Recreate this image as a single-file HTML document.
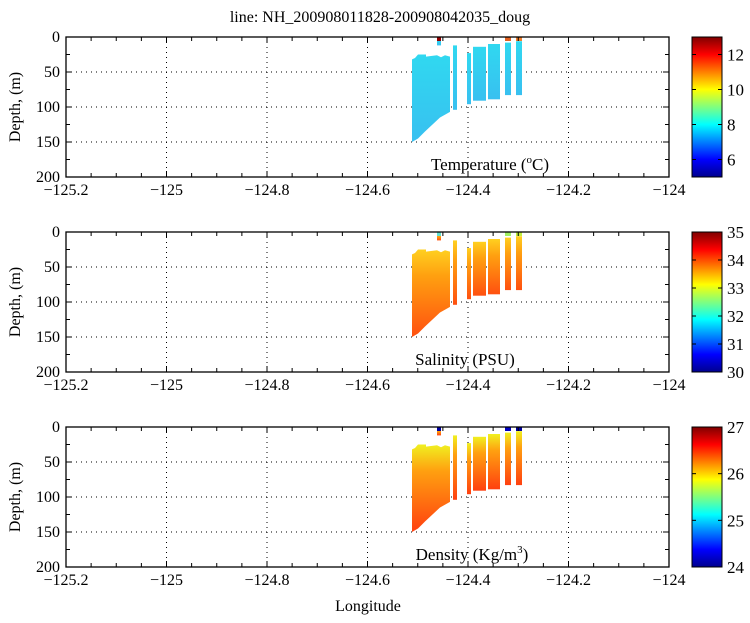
<!DOCTYPE html>
<html><head><meta charset="utf-8"><style>
body{margin:0;background:#fff;width:750px;height:618px;overflow:hidden}
svg text{font-family:"Liberation Serif",serif;fill:#000}
</style></head><body>
<svg id="s" width="750" height="618" xmlns="http://www.w3.org/2000/svg">
<defs>
<linearGradient id="jet" x1="0" y1="1" x2="0" y2="0">
<stop offset="0" stop-color="#00008f"/><stop offset="0.125" stop-color="#0000ff"/>
<stop offset="0.375" stop-color="#00ffff"/><stop offset="0.625" stop-color="#ffff00"/>
<stop offset="0.875" stop-color="#ff0000"/><stop offset="1" stop-color="#800000"/>
</linearGradient>
<linearGradient id="gT" x1="0" y1="0" x2="0" y2="1"><stop offset="0" stop-color="#30d8f0"/><stop offset="1" stop-color="#38c0f0"/></linearGradient>
<linearGradient id="gS" x1="0" y1="0" x2="0" y2="1"><stop offset="0" stop-color="#ffd020"/><stop offset="0.3" stop-color="#ffa010"/><stop offset="1" stop-color="#ff5010"/></linearGradient>
<linearGradient id="gD" x1="0" y1="0" x2="0" y2="1"><stop offset="0" stop-color="#f0f020"/><stop offset="0.3" stop-color="#ffa010"/><stop offset="1" stop-color="#ff4010"/></linearGradient>
</defs>
<text x="380" y="22" font-size="16" text-anchor="middle">line: NH_200908011828-200908042035_doug</text>
</svg>
<script>
const s=document.getElementById('s');const NS='http://www.w3.org/2000/svg';
function el(t,a,txt){const e=document.createElementNS(NS,t);for(const k in a)e.setAttribute(k,a[k]);if(txt!==undefined)e.innerHTML=txt;s.appendChild(e);return e;}
const L=66,R=669,W=R-L;
const tops=[37,232,427];
const fills=['url(#gT)','url(#gS)','url(#gD)'];
const labels=['Temperature (<tspan font-size="11" dy="-7">o</tspan><tspan dy="7">C)</tspan>','Salinity (PSU)','Density (Kg/m<tspan font-size="11" dy="-7">3</tspan><tspan dy="7">)</tspan>'];
const lx=[490,465,472];
const cb=[[5,13,[6,8,10,12]],[30,35,[30,31,32,33,34,35]],[24,27,[24,25,26,27]]];
const xv=v=>L+(v+125.2)/1.2*W;
tops.forEach((T,p)=>{
  const B=T+140,y=d=>T+d*0.7;
  for(const v of [-125,-124.8,-124.6,-124.4,-124.2]) el('line',{x1:xv(v),x2:xv(v),y1:T,y2:B,stroke:'#000','stroke-dasharray':'1,4','stroke-width':1});
  for(const d of [50,100,150]) el('line',{x1:L,x2:R,y1:y(d),y2:y(d),stroke:'#000','stroke-dasharray':'1,4','stroke-width':1});
  const pts=[[412,150],[412,32],[415,30],[418,25],[426,25],[426,28],[437,26],[441,29],[445,26],[450,28],[450,107],[440,115],[425,135],[418,145]];
  el('polygon',{points:pts.map(q=>q[0]+','+y(q[1])).join(' '),fill:fills[p]});
  const cols=[[453,457,12,104],[467,471,23,96],[473,486,14,91],[488,500,10,89],[505,511,8,83],[516,522,6,83],[437,441,4,12]];
  cols.forEach(c=>el('rect',{x:c[0],y:y(c[2]),width:c[1]-c[0],height:(c[3]-c[2])*0.7,fill:fills[p]}));
  const dots=[['#900000','#e06020','#f08030'],['#60e0d0','#a0f060','#c0f040'],['#0000a0','#0000c0','#0000a0']][p];
  [[437,441],[505,511],[516,522]].forEach((c,i)=>el('rect',{x:c[0],y:T,width:c[1]-c[0],height:4,fill:dots[i]}));
  el('rect',{x:L,y:T,width:W,height:140,fill:'none',stroke:'#000','stroke-width':1.3});
  for(let v=-125.2;v<=-123.99;v+=0.05){const X=xv(v);const big=Math.abs(v*5-Math.round(v*5))<0.01;const len=big?6:4;
    el('line',{x1:X,x2:X,y1:B,y2:B-len,stroke:'#000'});el('line',{x1:X,x2:X,y1:T,y2:T+len,stroke:'#000'});}
  for(let d=0;d<=200;d+=25){const Y=y(d);const len=d%50?4:6;
    el('line',{x1:L,x2:L+len,y1:Y,y2:Y,stroke:'#000'});el('line',{x1:R,x2:R-len,y1:Y,y2:Y,stroke:'#000'});
    if(d%50==0)el('text',{x:L-6,y:Y+5,'font-size':16,'text-anchor':'end'},d);}
  [-125.2,-125,-124.8,-124.6,-124.4,-124.2,-124].forEach(v=>el('text',{x:xv(v),y:B+18,'font-size':16,'text-anchor':'middle'},(v<0?'\u2212':'')+Math.abs(v).toString()));
  el('text',{x:20,y:T+70,'font-size':16,'text-anchor':'middle',transform:`rotate(-90 20 ${T+70})`},'Depth, (m)');
  el('text',{x:lx[p],y:T+133,'font-size':17,'text-anchor':'middle'},labels[p]);
  el('rect',{x:692,y:T,width:30,height:140,fill:'url(#jet)',stroke:'#000'});
  const [a,b,tk]=cb[p];
  tk.forEach(t=>{const Y=B-(t-a)/(b-a)*140;el('line',{x1:692,x2:696,y1:Y,y2:Y,stroke:'#000'});el('line',{x1:722,x2:718,y1:Y,y2:Y,stroke:'#000'});
    el('text',{x:727,y:Y+6,'font-size':17},t);});
});
el('text',{x:368,y:611,'font-size':16,'text-anchor':'middle'},'Longitude');
</script>
</body></html>
